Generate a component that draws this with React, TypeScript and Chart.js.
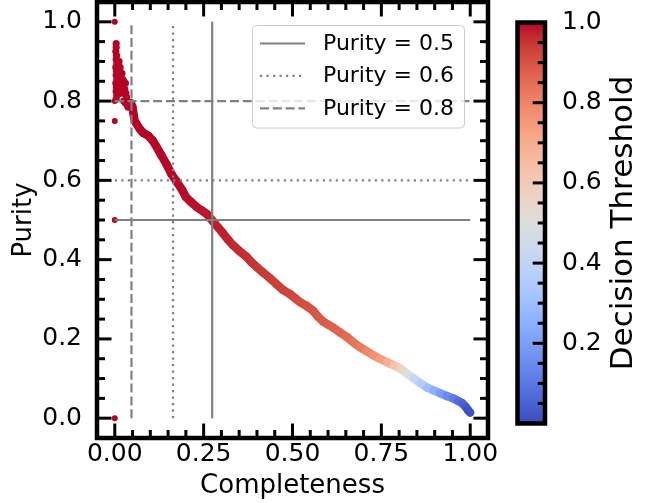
import React, { useEffect, useRef } from 'react';
import { Chart, registerables } from 'chart.js';

Chart.register(...registerables);

// ---------- data ----------
const X_TICKS = [0, 0.25, 0.5, 0.75, 1.0];
const Y_TICKS = [0, 0.2, 0.4, 0.6, 0.8, 1.0];
const CB_TICKS = [0.2, 0.4, 0.6, 0.8, 1.0];

const CURVE_COMPLETENESS = [
  0.038, 0.045, 0.05, 0.053, 0.056, 0.062, 0.07, 0.08, 0.095, 0.107,
  0.118, 0.13, 0.146, 0.16, 0.175, 0.19, 0.2, 0.215, 0.23, 0.245,
  0.259, 0.276, 0.29, 0.304, 0.318, 0.332, 0.35, 0.371, 0.385, 0.4,
  0.418, 0.437, 0.455, 0.473, 0.493, 0.507, 0.521, 0.54, 0.558, 0.572,
  0.586, 0.6, 0.614, 0.633, 0.653, 0.67, 0.69, 0.708, 0.727, 0.746,
  0.766, 0.785, 0.803, 0.82, 0.84, 0.86, 0.879, 0.897, 0.915, 0.934,
  0.952, 0.965, 0.977, 0.987, 0.994, 1.0,
];
const CURVE_PURITY = [
  0.79, 0.795, 0.785, 0.765, 0.75, 0.742, 0.73, 0.72, 0.712, 0.7,
  0.684, 0.665, 0.64, 0.615, 0.596, 0.575, 0.558, 0.545, 0.533, 0.524,
  0.515, 0.497, 0.482, 0.467, 0.451, 0.437, 0.422, 0.407, 0.393, 0.381,
  0.367, 0.353, 0.338, 0.324, 0.313, 0.303, 0.293, 0.283, 0.271, 0.256,
  0.244, 0.236, 0.229, 0.217, 0.205, 0.192, 0.179, 0.169, 0.159, 0.15,
  0.141, 0.133, 0.126, 0.114, 0.101, 0.088, 0.077, 0.07, 0.063, 0.056,
  0.05, 0.044, 0.038, 0.029, 0.02, 0.014,
];
const CURVE_THRESHOLD = [
  1.0, 1.0, 1.0, 1.0, 1.0, 1.0, 1.0, 1.0, 0.999, 0.999,
  0.998, 0.998, 0.997, 0.996, 0.995, 0.994, 0.993, 0.991, 0.989, 0.987,
  0.985, 0.982, 0.979, 0.976, 0.973, 0.97, 0.965, 0.96, 0.955, 0.95,
  0.945, 0.94, 0.935, 0.93, 0.925, 0.92, 0.915, 0.91, 0.903, 0.897,
  0.89, 0.884, 0.877, 0.868, 0.858, 0.846, 0.83, 0.81, 0.787, 0.758,
  0.72, 0.66, 0.6, 0.535, 0.46, 0.39, 0.33, 0.27, 0.22, 0.17,
  0.13, 0.095, 0.065, 0.04, 0.02, 0.0,
];

const CLUSTER_COMPLETENESS = [
  0.004, 0.004, 0.003, 0.005, 0.004, 0.006, 0.003, 0.005, 0.004, 0.006,
  0.003, 0.005, 0.004, 0.006, 0.004, 0.008, 0.01, 0.012, 0.013, 0.015,
  0.017, 0.018, 0.02, 0.022, 0.024, 0.026, 0.028, 0.03, 0.031, 0.033,
  0.035, 0.03, 0.037, 0.02, 0.025, 0.009, 0.011, 0.014,
];
const CLUSTER_PURITY = [
  0.945, 0.935, 0.925, 0.915, 0.905, 0.895, 0.885, 0.875, 0.865, 0.855,
  0.845, 0.835, 0.825, 0.815, 0.805, 0.89, 0.88, 0.9, 0.87, 0.885,
  0.865, 0.85, 0.87, 0.855, 0.84, 0.85, 0.83, 0.845, 0.82, 0.81,
  0.8, 0.795, 0.785, 0.82, 0.8, 0.84, 0.82, 0.835,
];
const CLUSTER_THRESHOLD = [
  1.0, 1.0, 1.0, 1.0, 1.0, 1.0, 1.0, 1.0, 1.0, 1.0,
  1.0, 1.0, 1.0, 1.0, 1.0, 1.0, 1.0, 1.0, 1.0, 1.0,
  1.0, 1.0, 1.0, 1.0, 1.0, 1.0, 1.0, 1.0, 1.0, 1.0,
  1.0, 1.0, 1.0, 1.0, 1.0, 1.0, 1.0, 1.0,
];

const OUTLIER_COMPLETENESS = [0, 0, 0, 0, 0];
const OUTLIER_PURITY = [1.0, 0.8, 0.75, 0.5, 0.0];
const OUTLIER_THRESHOLD = [1.0, 1.0, 1.0, 1.0, 1.0];

const LEVEL_LABELS = ['Purity = 0.5', 'Purity = 0.6', 'Purity = 0.8'];
const LEVEL_PURITY = [0.5, 0.6, 0.8];
const LEVEL_COMPLETENESS = [0.274, 0.164, 0.047];

// ---------- coolwarm colormap ----------
const COOLWARM = [
  [0.2298057, 0.298717966, 0.753683153], [0.26623388, 0.353094838, 0.801466763],
  [0.30386891, 0.406535296, 0.84495867], [0.342804478, 0.458757618, 0.883725899],
  [0.38301334, 0.50941904, 0.917387822], [0.424369608, 0.558148092, 0.945619588],
  [0.46666708, 0.604562568, 0.968154911], [0.509635204, 0.648280772, 0.98478814],
  [0.552953156, 0.688929332, 0.995375608], [0.596262162, 0.726149107, 0.999836203],
  [0.639176211, 0.759599947, 0.998151185], [0.681291281, 0.788964712, 0.990363227],
  [0.722193294, 0.813952739, 0.976574709], [0.761464949, 0.834302879, 0.956945269],
  [0.798691636, 0.849786142, 0.931688648], [0.833466556, 0.860207984, 0.901068838],
  [0.865395197, 0.86541021, 0.865395561], [0.897787179, 0.848937047, 0.820880546],
  [0.924127593, 0.827384882, 0.774508472], [0.944468518, 0.800927443, 0.726736146],
  [0.958852946, 0.769767752, 0.678007945], [0.96732803, 0.734132809, 0.628751763],
  [0.969954137, 0.694266682, 0.579375448], [0.966811177, 0.650421156, 0.530263762],
  [0.958003065, 0.602842431, 0.481775914], [0.943660866, 0.551750968, 0.434243684],
  [0.923944917, 0.49730856, 0.387970225], [0.89904617, 0.439559467, 0.343229596],
  [0.869186849, 0.378313092, 0.300267182], [0.834620542, 0.312874446, 0.259301199],
  [0.795631745, 0.24128379, 0.220525627], [0.752534934, 0.157246067, 0.184115123],
  [0.705673158, 0.01555616, 0.150232812],
];

function coolwarm(t: number): string {
  const v = Math.max(0, Math.min(1, t)) * (COOLWARM.length - 1);
  const i = Math.min(COOLWARM.length - 2, Math.floor(v));
  const f = v - i;
  const a = COOLWARM[i];
  const b = COOLWARM[i + 1];
  const c = [0, 1, 2].map((k) => Math.round((a[k] + (b[k] - a[k]) * f) * 255));
  return `rgb(${c[0]},${c[1]},${c[2]})`;
}

const FONT = "'DejaVu Sans', 'Liberation Sans', sans-serif";

const noPad = (s: any) => {
  s.paddingTop = 0;
  s.paddingBottom = 0;
  s.paddingLeft = 0;
  s.paddingRight = 0;
};

// ---------- plugins ----------
const mainDecor = {
  id: 'mainDecor',
  afterDatasetsDraw(chart: any) {
    const ctx = chart.ctx as CanvasRenderingContext2D;
    const { left, right, top, bottom } = chart.chartArea;
    const xs = chart.scales.x;
    const ys = chart.scales.y;

    // legend (matplotlib-style, inside upper right)
    ctx.save();
    const bx = right - 235.5;
    const by = top + 23.5;
    const bw = 212;
    const bh = 102.5;
    ctx.beginPath();
    (ctx as any).roundRect(bx, by, bw, bh, 4);
    ctx.fillStyle = 'rgba(255,255,255,0.8)';
    ctx.fill();
    ctx.strokeStyle = '#cccccc';
    ctx.lineWidth = 1;
    ctx.stroke();
    const levelSets = chart.data.datasets.filter((d: any) => d.isLevel);
    levelSets.forEach((d: any, i: number) => {
      const ry = by + 18 + i * 32.4;
      ctx.beginPath();
      ctx.setLineDash(d.borderDash || []);
      ctx.strokeStyle = d.borderColor;
      ctx.lineWidth = d.borderWidth;
      ctx.moveTo(bx + 7.5, ry);
      ctx.lineTo(bx + 52.5, ry);
      ctx.stroke();
      ctx.setLineDash([]);
      ctx.fillStyle = '#000';
      ctx.font = `22px ${FONT}`;
      ctx.textBaseline = 'middle';
      ctx.textAlign = 'left';
      ctx.fillText(d.label, bx + 70.5, ry + 0.5);
    });
    ctx.restore();

    // inward ticks on all four sides + frame
    ctx.save();
    ctx.strokeStyle = '#000';
    ctx.lineCap = 'butt';
    const seg = (x1: number, y1: number, x2: number, y2: number, w: number) => {
      ctx.lineWidth = w;
      ctx.beginPath();
      ctx.moveTo(x1, y1);
      ctx.lineTo(x2, y2);
      ctx.stroke();
    };
    for (let i = 0; i <= 20; i++) {
      const v = i * 0.05;
      const major = X_TICKS.some((t) => Math.abs(t - v) < 1e-6);
      const L = major ? 14.5 : 8;
      const px = xs.getPixelForValue(v);
      seg(px, bottom, px, bottom - L, 3);
      seg(px, top, px, top + L, 3);
    }
    for (let i = 0; i <= 20; i++) {
      const v = i * 0.05;
      const major = Y_TICKS.some((t) => Math.abs(t - v) < 1e-6);
      const L = major ? 14.5 : 8;
      const py = ys.getPixelForValue(v);
      seg(left, py, left + L, py, 3);
      seg(right, py, right - L, py, 3);
    }
    ctx.lineWidth = 4.5;
    ctx.lineJoin = 'miter';
    ctx.strokeRect(left, top, right - left, bottom - top);
    ctx.restore();
  },
};

const cbDecor = {
  id: 'cbDecor',
  afterDatasetsDraw(chart: any) {
    const ctx = chart.ctx as CanvasRenderingContext2D;
    const { left, right, top, bottom } = chart.chartArea;
    const ys = chart.scales.y;
    ctx.save();
    ctx.strokeStyle = '#000';
    for (let i = 1; i <= 19; i++) {
      const v = i * 0.05;
      const major = CB_TICKS.some((t) => Math.abs(t - v) < 1e-6);
      const L = major ? 12.3 : 7.3;
      const py = ys.getPixelForValue(v);
      ctx.lineWidth = 3;
      ctx.beginPath();
      ctx.moveTo(right, py);
      ctx.lineTo(right - L, py);
      ctx.stroke();
    }
    ctx.lineWidth = 4.5;
    ctx.strokeRect(left, top, right - left, bottom - top);
    // colorbar label, reading upward
    ctx.translate(right + 87, (top + bottom) / 2);
    ctx.rotate(-Math.PI / 2);
    ctx.fillStyle = '#000';
    ctx.font = `31px ${FONT}`;
    ctx.textAlign = 'center';
    ctx.textBaseline = 'alphabetic';
    ctx.fillText('Decision Threshold', 0, 0);
    ctx.restore();
  },
};

export default function App() {
  const mainRef = useRef<HTMLCanvasElement | null>(null);
  const cbRef = useRef<HTMLCanvasElement | null>(null);

  useEffect(() => {
    Chart.defaults.font.family = FONT;
    Chart.defaults.color = '#000';

    const levelDashes = [[], [2.2, 4.3], [9, 3.8]];
    const levelSets = LEVEL_PURITY.map((p, i) => ({
      type: 'line',
      label: LEVEL_LABELS[i],
      isLevel: true,
      data: [
        { x: 0, y: p },
        { x: 1, y: p },
        { x: LEVEL_COMPLETENESS[i], y: null },
        { x: LEVEL_COMPLETENESS[i], y: 0 },
        { x: LEVEL_COMPLETENESS[i], y: 1 },
      ],
      borderColor: '#808080',
      borderWidth: 2.2,
      borderDash: levelDashes[i],
      borderCapStyle: 'butt',
      pointRadius: 0,
      showLine: true,
      spanGaps: false,
      fill: false,
      order: 0,
    }));

    const curve = {
      type: 'line',
      label: 'curve',
      data: CURVE_COMPLETENESS.map((c, i) => ({ x: c, y: CURVE_PURITY[i] })),
      showLine: true,
      borderWidth: 8.5,
      borderCapStyle: 'round',
      borderJoinStyle: 'round',
      borderColor: coolwarm(1),
      pointRadius: 0,
      fill: false,
      tension: 0,
      segment: {
        borderColor: (ctx: any) =>
          coolwarm((CURVE_THRESHOLD[ctx.p0DataIndex] + CURVE_THRESHOLD[ctx.p1DataIndex]) / 2),
      },
      order: 2,
    };

    const cluster = {
      type: 'scatter',
      label: 'cluster',
      data: CLUSTER_COMPLETENESS.map((c, i) => ({ x: c, y: CLUSTER_PURITY[i] })),
      pointRadius: 3.6,
      pointBorderWidth: 0,
      pointBackgroundColor: CLUSTER_THRESHOLD.map((t) => coolwarm(t)),
      order: 2,
    };

    const outliers = {
      type: 'scatter',
      label: 'outliers',
      data: OUTLIER_COMPLETENESS.map((c, i) => ({ x: c, y: OUTLIER_PURITY[i] })),
      pointRadius: 3,
      pointBorderWidth: 0,
      pointBackgroundColor: OUTLIER_THRESHOLD.map((t) => coolwarm(t)),
      order: 3,
    };

    const main = new Chart(mainRef.current as HTMLCanvasElement, {
      type: 'scatter',
      data: { datasets: [...levelSets, curve, cluster, outliers] as any },
      options: {
        animation: false,
        responsive: false,
        devicePixelRatio: 1,
        events: [],
        layout: { padding: { left: 0, top: 2, right: 22, bottom: 0 }, autoPadding: false } as any,
        plugins: { legend: { display: false }, tooltip: { enabled: false } },
        scales: {
          x: {
            type: 'linear',
            min: -0.05,
            max: 1.05,
            grid: { display: false, drawTicks: false },
            border: { display: false },
            afterBuildTicks: (s: any) => {
              s.ticks = X_TICKS.map((v) => ({ value: v }));
            },
            afterFit: (s: any) => {
              s.height = 65;
              noPad(s);
            },
            ticks: {
              callback: (v: any) => Number(v).toFixed(2),
              font: { size: 25 },
              color: '#000',
              padding: 1,
              maxRotation: 0,
              autoSkip: false,
            },
            title: {
              display: true,
              text: 'Completeness',
              font: { size: 26 },
              color: '#000',
              padding: { top: 0, bottom: 1.5 },
            },
          },
          y: {
            type: 'linear',
            min: -0.05,
            max: 1.05,
            grid: { display: false, drawTicks: false },
            border: { display: false },
            afterBuildTicks: (s: any) => {
              s.ticks = Y_TICKS.map((v) => ({ value: v }));
            },
            afterFit: (s: any) => {
              s.width = 97;
              noPad(s);
            },
            ticks: {
              callback: (v: any) => Number(v).toFixed(1),
              font: { size: 25 },
              color: '#000',
              padding: 15,
              autoSkip: false,
            },
            title: {
              display: true,
              text: 'Purity',
              font: { size: 26 },
              color: '#000',
              padding: { top: 8.5, bottom: 0 },
            },
          },
        },
      } as any,
      plugins: [mainDecor],
    });

    const cb = new Chart(cbRef.current as HTMLCanvasElement, {
      type: 'bar',
      data: {
        labels: [''],
        datasets: [
          {
            data: [[0, 1]] as any,
            borderWidth: 0,
            barPercentage: 1,
            categoryPercentage: 1,
            backgroundColor: (ctx: any) => {
              const area = ctx.chart.chartArea;
              if (!area) return coolwarm(0.5);
              const g = ctx.chart.ctx.createLinearGradient(0, area.bottom, 0, area.top);
              for (let i = 0; i < COOLWARM.length; i++) {
                const t = i / (COOLWARM.length - 1);
                g.addColorStop(t, coolwarm(t));
              }
              return g;
            },
          },
        ],
      },
      options: {
        animation: false,
        responsive: false,
        devicePixelRatio: 1,
        events: [],
        layout: { padding: { left: 17.5, top: 22.5, right: 0, bottom: 79.5 }, autoPadding: false } as any,
        plugins: { legend: { display: false }, tooltip: { enabled: false } },
        scales: {
          x: { display: false },
          y: {
            position: 'right',
            min: 0,
            max: 1,
            grid: { display: false, drawTicks: false },
            border: { display: false },
            afterBuildTicks: (s: any) => {
              s.ticks = CB_TICKS.map((v) => ({ value: v }));
            },
            afterFit: (s: any) => {
              s.width = 114;
              noPad(s);
            },
            ticks: {
              callback: (v: any) => Number(v).toFixed(1),
              font: { size: 25 },
              color: '#000',
              padding: 17,
              autoSkip: false,
            },
          },
        },
      } as any,
      plugins: [cbDecor],
    });

    return () => {
      main.destroy();
      cb.destroy();
    };
  }, []);

  return (
    <div
      style={{
        position: 'fixed',
        left: 0,
        top: 0,
        width: 659,
        height: 503,
        background: '#fff',
        overflow: 'hidden',
      }}
    >
      <canvas
        ref={mainRef}
        width={510}
        height={503}
        style={{ position: 'absolute', left: 0, top: 0, width: 510, height: 503 }}
      />
      <canvas
        ref={cbRef}
        width={159}
        height={503}
        style={{ position: 'absolute', left: 500, top: 0, width: 159, height: 503 }}
      />
    </div>
  );
}
